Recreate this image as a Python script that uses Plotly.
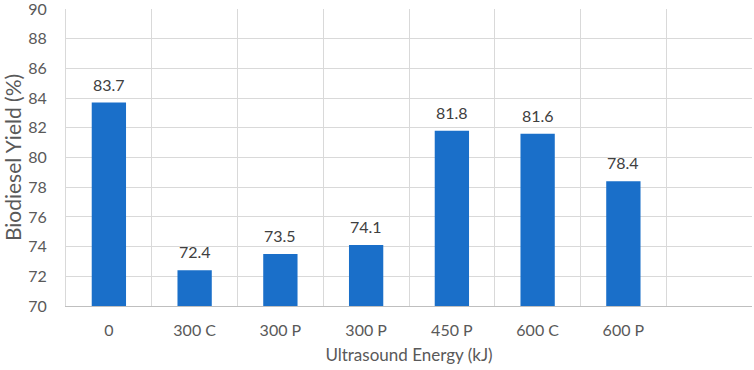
import plotly.graph_objects as go

categories = ["0", "300 C", "300 P", "300 P", "450 P", "600 C", "600 P"]
yields = [83.7, 72.4, 73.5, 74.1, 81.8, 81.6, 78.4]
y_ticks = [70, 72, 74, 76, 78, 80, 82, 84, 86, 88, 90]

positions = list(range(len(categories)))
font_family = "Lato, 'Open Sans', sans-serif"

fig = go.Figure(go.Bar(
    x=positions,
    y=yields,
    width=0.4,
    marker=dict(color="#1a6fc9", line=dict(width=0)),
    cliponaxis=False,
    hoverinfo="skip",
))

for p, v in zip(positions, yields):
    fig.add_annotation(
        x=p, y=v, text=f"{v:.1f}", showarrow=False,
        yanchor="bottom", yshift=7,
        font=dict(size=16, color="#404040", family=font_family),
    )

fig.update_layout(
    width=754, height=370,
    margin=dict(l=66, r=2, t=9, b=64, autoexpand=False),
    paper_bgcolor="white", plot_bgcolor="white",
    showlegend=False,
    font=dict(family=font_family, color="#595959"),
    xaxis=dict(
        range=[-0.5, 7.5], automargin=False,
        tickmode="array", tickvals=positions, ticktext=categories,
        tickfont=dict(size=16, color="#595959"),
        showgrid=False, zeroline=False,
        showline=True, linecolor="#bfbfbf", linewidth=1,
        ticks="outside", ticklen=10, tickcolor="rgba(0,0,0,0)",
        minor=dict(tick0=0.5, dtick=1, showgrid=True, gridcolor="#d9d9d9", gridwidth=1),
        title=dict(text="Ultrasound Energy (kJ)", font=dict(size=17, color="#595959"), standoff=10),
    ),
    yaxis=dict(
        range=[70, 90], automargin=False,
        tickmode="array", tickvals=y_ticks,
        tickfont=dict(size=16, color="#595959"),
        ticklabeloverflow="allow",
        showgrid=True, gridcolor="#d9d9d9", gridwidth=1,
        zeroline=False,
        showline=True, linecolor="#d9d9d9", linewidth=1,
        ticks="outside", ticklen=15, tickcolor="rgba(0,0,0,0)",
        title=dict(text="Biodiesel Yield (%)", font=dict(size=21, color="#595959"), standoff=4),
    ),
)

fig.write_html(
    "out.html",
    config={"displayModeBar": False, "staticPlot": True},
    post_script="document.body.style.margin='0';document.body.style.overflow='hidden';",
)
